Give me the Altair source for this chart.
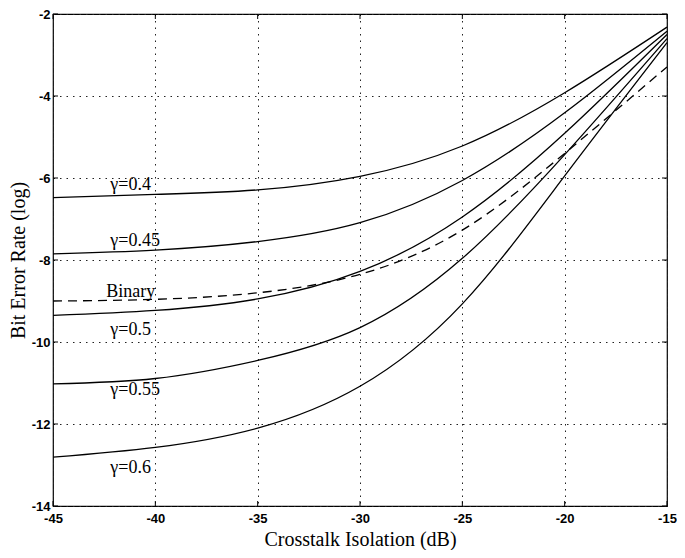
import altair as alt
import pandas as pd

# Crosstalk isolation (dB)
x_vals = [-45, -40, -35, -30, -25, -20, -15]

# log10 bit error rate for each curve
ber_g040 = [-6.48, -6.40, -6.29, -5.96, -5.22, -3.92, -2.32]
ber_g045 = [-7.85, -7.76, -7.55, -7.09, -6.06, -4.41, -2.42]
ber_g050 = [-9.35, -9.23, -8.95, -8.28, -6.95, -4.91, -2.50]
ber_g055 = [-11.02, -10.89, -10.45, -9.65, -7.96, -5.43, -2.60]
ber_g060 = [-12.81, -12.57, -12.10, -11.08, -9.07, -5.95, -2.70]
ber_binary = [-9.00, -8.96, -8.80, -8.35, -7.27, -5.40, -3.29]

# curve annotations
label_text = ["γ=0.4", "γ=0.45", "Binary", "γ=0.5", "γ=0.55", "γ=0.6"]
label_x = [-42.2, -42.2, -42.4, -42.2, -42.2, -42.2]
label_y = [-6.16, -7.54, -8.79, -9.71, -11.18, -13.08]

x_ticks = [-45, -40, -35, -30, -25, -20, -15]
y_ticks = [-14, -12, -10, -8, -6, -4, -2]

W, H = 614, 492

solid = pd.concat([
    pd.DataFrame({"x": x_vals, "y": ys, "series": name})
    for name, ys in [("g0.4", ber_g040), ("g0.45", ber_g045), ("g0.5", ber_g050),
                     ("g0.55", ber_g055), ("g0.6", ber_g060)]
])
dashed = pd.DataFrame({"x": x_vals, "y": ber_binary})
labels = pd.DataFrame({"x": label_x, "y": label_y, "text": label_text})
xt = pd.DataFrame({"x": x_ticks})
yt = pd.DataFrame({"y": y_ticks})

xscale = alt.Scale(domain=[-45, -15], nice=False, zero=False)
yscale = alt.Scale(domain=[-14, -2], nice=False, zero=False)

xaxis = alt.Axis(values=x_ticks, title="Crosstalk Isolation (dB)",
                 labelExpr="'' + datum.value", grid=True, ticks=False, tickSize=0,
                 labelPadding=6, labelFont="Liberation Sans", labelFontSize=13,
                 labelFontWeight="bold", labelColor="black",
                 titleFont="Liberation Serif", titleFontSize=20, titleFontWeight="normal",
                 titleColor="black", titleY=39, titleBaseline="alphabetic",
                 domain=False, labelFlush=False)
yaxis = alt.Axis(values=y_ticks, title="Bit Error Rate (log)",
                 labelExpr="'' + datum.value", grid=True, ticks=False, tickSize=0,
                 labelPadding=3, labelFont="Liberation Sans", labelFontSize=13,
                 labelFontWeight="bold", labelColor="black",
                 titleFont="Liberation Serif", titleFontSize=20, titleFontWeight="normal",
                 titleColor="black", titleX=-29, titleBaseline="alphabetic",
                 domain=False, labelFlush=False)

X = alt.X("x:Q", scale=xscale, axis=xaxis)
Y = alt.Y("y:Q", scale=yscale, axis=yaxis)

lines = alt.Chart(solid).mark_line(color="black", strokeWidth=1.3, interpolate="natural").encode(
    x=X, y=Y, detail="series:N",
)
binary = alt.Chart(dashed).mark_line(color="black", strokeWidth=1.3, strokeDash=[9, 6],
                                     interpolate="natural").encode(x=X, y=Y)
text = alt.Chart(labels).mark_text(font="Liberation Serif", fontSize=18, align="left",
                                   baseline="middle", color="black").encode(
    x=X, y=Y, text="text:N",
)

tick_bottom = alt.Chart(xt).mark_rule(color="black", strokeWidth=1).encode(
    x=X, y=alt.value(H), y2=alt.value(H - 5))
tick_top = alt.Chart(xt).mark_rule(color="black", strokeWidth=1).encode(
    x=X, y=alt.value(0), y2=alt.value(5))
tick_left = alt.Chart(yt).mark_rule(color="black", strokeWidth=1).encode(
    y=Y, x=alt.value(0), x2=alt.value(5))
tick_right = alt.Chart(yt).mark_rule(color="black", strokeWidth=1).encode(
    y=Y, x=alt.value(W), x2=alt.value(W - 5))

chart = alt.layer(lines, binary, text, tick_bottom, tick_top, tick_left, tick_right).properties(
    width=W, height=H,
    padding={"left": 45, "top": 6, "right": 10, "bottom": 44},
    autosize=alt.AutoSizeParams(type="none"),
    background="white",
).configure_view(
    stroke="black", strokeWidth=1.2
).configure_axis(
    gridColor="#222222", gridDash=[1.5, 5], gridOpacity=1, gridWidth=1
)

chart.save("out.html", embed_options={"renderer": "svg", "actions": False})
